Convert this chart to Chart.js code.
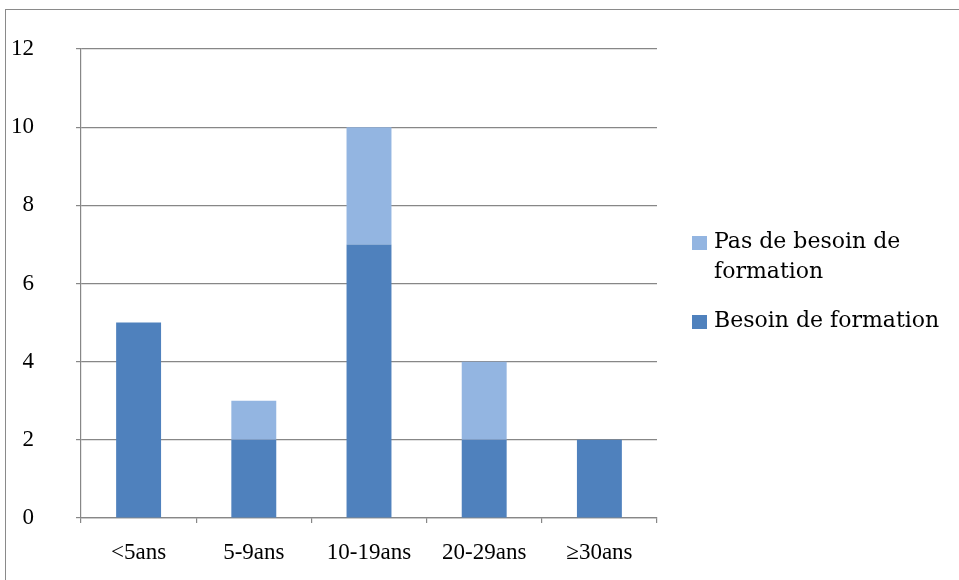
<!DOCTYPE html>
<html lang="fr">
<head>
    <meta charset="UTF-8">
    <title>Besoin de formation par ancienneté</title>
    <style>
        body {
            margin: 0;
            padding: 0;
            background: #fff;
            overflow: hidden;
        }
        #wrap {
            position: relative;
            width: 959px;
            height: 580px;
            overflow: hidden;
        }
        #frame {
            position: absolute;
            left: 5px;
            top: 9px;
            width: 1000px;
            height: 700px;
            border: 1px solid #8a8a8a;
            pointer-events: none;
        }
        #chartBox {
            position: absolute;
            left: 0;
            top: 0;
            width: 959px;
            height: 580px;
        }
        #legend {
            position: absolute;
            left: 692px;
            top: 226px;
            font-family: "DejaVu Serif", serif;
            font-size: 22px;
            line-height: 30px;
            color: #000;
        }
        .item {
            position: relative;
            padding-left: 22px;
            width: 240px;
            margin-bottom: 19px;
        }
        .item span.box {
            position: absolute;
            left: 0;
            top: 10px;
            width: 15px;
            height: 14px;
        }
    </style>
    <script src="https://cdn.jsdelivr.net/npm/chart.js"></script>
</head>
<body>
<div id="wrap">
    <div id="chartBox"><canvas id="formationChart"></canvas></div>
    <div id="frame"></div>
    <div id="legend"></div>
</div>

<script>
    const categories = ['<5ans', '5-9ans', '10-19ans', '20-29ans', '\u226530ans'];
    const besoin = [5, 2, 7, 2, 2];
    const pasBesoin = [0, 1, 3, 2, 0];
    const yTicks = [0, 2, 4, 6, 8, 10, 12];

    const darkBlue = '#4F81BD';
    const lightBlue = '#93B5E1';
    const gridGray = '#878787';
    const tickFont = { family: '"Liberation Serif", serif', size: 23 };

    const datasets = [
        {
            label: 'Besoin de formation',
            data: besoin,
            backgroundColor: darkBlue,
            borderWidth: 0,
            barPercentage: 0.39,
            categoryPercentage: 1
        },
        {
            label: 'Pas de besoin de formation',
            data: pasBesoin,
            backgroundColor: lightBlue,
            borderWidth: 0,
            barPercentage: 0.39,
            categoryPercentage: 1
        }
    ];

    const chart = new Chart(document.getElementById('formationChart'), {
        type: 'bar',
        data: { labels: categories, datasets: datasets },
        options: {
            responsive: true,
            maintainAspectRatio: false,
            animation: false,
            layout: { padding: { left: 0, top: 49, right: 302, bottom: 0 } },
            plugins: {
                legend: { display: false },
                tooltip: { enabled: false }
            },
            scales: {
                x: {
                    stacked: true,
                    grid: {
                        drawOnChartArea: false,
                        drawTicks: true,
                        tickLength: 5,
                        color: gridGray,
                        lineWidth: 1.2,
                        offset: true
                    },
                    border: { color: gridGray, width: 1.2 },
                    ticks: {
                        color: '#000',
                        font: tickFont,
                        padding: 16,
                        maxRotation: 0,
                        autoSkip: false
                    },
                    afterFit: (scale) => {
                        scale.height = 62;
                        scale.paddingLeft = 0;
                        scale.paddingRight = 0;
                    }
                },
                y: {
                    stacked: true,
                    min: yTicks[0],
                    max: yTicks[yTicks.length - 1],
                    grid: {
                        color: gridGray,
                        lineWidth: 1.2,
                        tickLength: 5
                    },
                    border: { color: gridGray, width: 1.2 },
                    ticks: {
                        stepSize: yTicks[1] - yTicks[0],
                        color: '#000',
                        font: tickFont,
                        padding: 42
                    },
                    afterFit: (scale) => {
                        scale.width = 81;
                        scale.paddingTop = 0;
                        scale.paddingBottom = 0;
                    }
                }
            }
        }
    });

    // legend on the right, top entry first like the stack
    const legend = document.getElementById('legend');
    datasets.slice().reverse().forEach(ds => {
        const item = document.createElement('div');
        item.className = 'item';
        const box = document.createElement('span');
        box.className = 'box';
        box.style.background = ds.backgroundColor;
        item.appendChild(box);
        item.appendChild(document.createTextNode(ds.label));
        legend.appendChild(item);
    });
</script>
</body>
</html>
